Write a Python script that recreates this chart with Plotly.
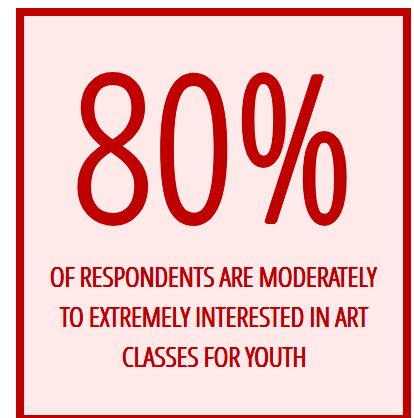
import plotly.graph_objects as go

# ---- data ----
percent_value = 80
caption_lines = [
    "OF RESPONDENTS ARE MODERATELY",
    "TO EXTREMELY INTERESTED IN ART",
    "CLASSES FOR YOUTH",
]

RED = "#c00000"
PINK = "#ffe9e9"
W, H = 414, 418
FONT = "Open Sans Condensed Light, DejaVu Sans Condensed, sans-serif"


def thicken(px):
    offs = [(px, 0), (-px, 0), (0, px), (0, -px), (px * 0.7, px * 0.7),
            (-px * 0.7, px * 0.7), (px * 0.7, -px * 0.7), (-px * 0.7, -px * 0.7)]
    return ", ".join(f"{dx:.2f}px {dy:.2f}px 0 {RED}" for dx, dy in offs)


fig = go.Figure()

# framed card
fig.add_shape(
    type="rect", xref="paper", yref="paper",
    x0=20 / W, x1=407 / W, y0=1 - 419 / H, y1=1 - 12 / H,
    line=dict(color=RED, width=8), fillcolor=PINK, layer="below",
)

# big number
fig.add_annotation(
    text=f"{percent_value}%", xref="paper", yref="paper",
    x=213 / W, y=1 - 143 / H, xanchor="center", yanchor="middle",
    showarrow=False, font=dict(family=FONT, size=203, color=RED, shadow=thicken(1.8)),
)

# caption lines
for i, line in enumerate(caption_lines):
    fig.add_annotation(
        text=line, xref="paper", yref="paper",
        x=214 / W, y=1 - (276 + 40 * i) / H, xanchor="center", yanchor="middle",
        showarrow=False,
        font=dict(family=FONT, size=28, color=RED, shadow=thicken(0.45)),
    )

fig.update_layout(
    width=W, height=H, margin=dict(l=0, r=0, t=0, b=0),
    paper_bgcolor="white", plot_bgcolor="white",
    xaxis=dict(visible=False), yaxis=dict(visible=False),
    showlegend=False,
)

fig.write_html("out.html", config={"displayModeBar": False},
               post_script="document.body.style.margin='0';")
